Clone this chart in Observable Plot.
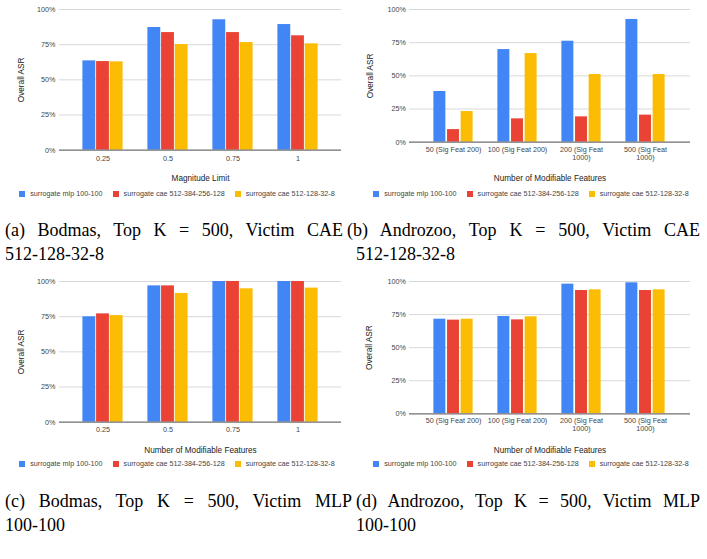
<!DOCTYPE html>
<html>
<head>
<meta charset="utf-8">
<script src="https://cdn.jsdelivr.net/npm/d3@7"></script>
<script src="https://cdn.jsdelivr.net/npm/@observablehq/plot@0.6"></script>
<style>
  body { margin: 0; background: #fff; width: 707px; height: 559px; overflow: hidden; position: relative; }
  .panel { position: absolute; width: 354px; height: 200px; }
  .panel svg { display: block; }
  .legend { position: absolute; left: 0; top: 189px; width: 354px; }
  div.legend div.lg-swatches { font-family: "Liberation Sans", Arial, sans-serif; font-size: 7.2px; color: #444; justify-content: center; margin: 0; min-height: 0; height: 9px; }
  div.legend .lg-swatch { margin-right: 10px; }
  div.legend .lg-swatch:last-child { margin-right: 0; }
  div.legend .lg-swatch > svg { margin-right: 5px; }
  .cap { position: absolute; font-family: "Liberation Serif", "Times New Roman", serif; font-size: 18px; line-height: 24px; color: #000; }
  .cap .l1 { text-align: justify; text-align-last: justify; }
</style>
</head>
<body>
<script>
// ---- data ----
const series = ["surrogate mlp 100-100", "surrogate cae 512-384-256-128", "surrogate cae 512-128-32-8"];
const colors = ["#4285F4", "#EA4335", "#FBBC04"];
const magnitudeLimits = ["0.25", "0.5", "0.75", "1"];
const featureLabels = ["50 (Sig Feat 200)", "100 (Sig Feat 200)", "200 (Sig Feat\n1000)", "500 (Sig Feat\n1000)"];
const yTicks = [0, 25, 50, 75, 100];

// (a) Bodmas, Victim CAE
const aMlp  = [63.5, 87.2, 92.7, 89.3];
const aCae4 = [63.0, 83.6, 83.6, 81.3];
const aCae8 = [62.8, 75.1, 76.5, 75.6];
// (b) Androzoo, Victim CAE
const bMlp  = [38.2, 69.8, 76.1, 92.5];
const bCae4 = [9.5, 17.6, 19.1, 20.4];
const bCae8 = [23.1, 66.8, 51.0, 51.0];
// (c) Bodmas, Victim MLP
const cMlp  = [74.9, 96.9, 100, 100];
const cCae4 = [77.0, 96.9, 100, 100];
const cCae8 = [75.8, 91.5, 94.8, 95.3];
// (d) Androzoo, Victim MLP
const dMlp  = [71.5, 73.6, 98.0, 99.0];
const dCae4 = [70.8, 71.0, 93.2, 93.2];
const dCae8 = [71.5, 73.3, 93.7, 93.7];

const xTitles = ["Magnitude Limit", "Number of Modifiable Features", "Number of Modifiable Features", "Number of Modifiable Features"];
const yTitle = "Overall ASR";
const captionLine1 = ["(a) Bodmas, Top K = 500, Victim CAE", "(b) Androzoo, Top K = 500, Victim CAE", "(c) Bodmas, Top K = 500, Victim MLP", "(d) Androzoo, Top K = 500, Victim MLP"];
const captionLine2 = ["512-128-32-8", "512-128-32-8", "100-100", "100-100"];

// ---- layout ----
const W = 354, H = 186, PI = 0.37, PO = 0.35;
const panels = [
  {left: 0,   top: 0,   groups: magnitudeLimits, values: [aMlp, aCae4, aCae8], mt: 9,  mb: 36.3, ml: 59, mr: 13, tpx: 4.5, tpy: 4,   tdy: 28.3, ydx: -38},
  {left: 354, top: 0,   groups: featureLabels,   values: [bMlp, bCae4, bCae8], mt: 9,  mb: 44.3, ml: 55, mr: 18, tpx: 3.5, tpy: 3.5, tdy: 36.3, ydx: -39},
  {left: 0,   top: 270, groups: magnitudeLimits, values: [cMlp, cCae4, cCae8], mt: 11, mb: 34.3, ml: 59, mr: 13, tpx: 3.5, tpy: 4,   tdy: 28.3, ydx: -38.3},
  {left: 354, top: 270, groups: featureLabels,   values: [dMlp, dCae4, dCae8], mt: 11, mb: 42.7, ml: 55, mr: 18, tpx: 3.5, tpy: 3.5, tdy: 36.7, ydx: -39.7}
];
const captions = [
  {left: 5,   top: 218, width: 338, indent: 0},
  {left: 356, top: 218, width: 344, indent: -9},
  {left: 5,   top: 489, width: 347, indent: 0},
  {left: 356, top: 489, width: 344, indent: 0}
];

const font = '"Liberation Sans", Arial, sans-serif';

panels.forEach((p, k) => {
  const rows = [];
  p.values.forEach((vals, i) => vals.forEach((v, j) => rows.push({group: p.groups[j], series: series[i], value: v})));
  const bw = d3.scaleBand().domain(p.groups).range([p.ml, W - p.mr]).paddingInner(PI).paddingOuter(PO).bandwidth();
  const gap = 0.4;
  const bars = series.map((s, i) => Plot.barY(rows.filter(d => d.series === s), {
    x: "group", y1: 0, y2: "value", fill: "series",
    insetLeft: i * bw / 3 + gap, insetRight: (2 - i) * bw / 3 + gap
  }));
  const chart = Plot.plot({
    width: W, height: H,
    marginTop: p.mt, marginBottom: p.mb, marginLeft: p.ml, marginRight: p.mr,
    style: {fontFamily: font, background: "white", overflow: "visible"},
    x: {type: "band", domain: p.groups, paddingInner: PI, paddingOuter: PO, align: 0.5},
    y: {domain: [0, 100]},
    color: {domain: series, range: colors},
    marks: [
      Plot.gridY(yTicks, {stroke: "#d4d4d4", strokeOpacity: 1, strokeWidth: 0.9}),
      ...bars,
      Plot.ruleY([0], {stroke: "#7a7a7a", strokeWidth: 1.3}),
      Plot.axisY({ticks: yTicks, tickFormat: d => `${d}%`, tickSize: 0, tickPadding: p.tpy, fontSize: 7.2, fill: "#444", label: null}),
      Plot.axisX({tickSize: 0, tickPadding: p.tpx, fontSize: 7.2, fill: "#444", label: null, lineHeight: 1.15}),
      Plot.text([xTitles[k]], {frameAnchor: "bottom", dy: p.tdy, lineAnchor: "middle", textAnchor: "middle", fontSize: 8.2, fill: "#222"}),
      Plot.text([yTitle], {frameAnchor: "left", dx: p.ydx, rotate: -90, lineAnchor: "middle", textAnchor: "middle", fontSize: 8.2, fill: "#222"})
    ]
  });
  const div = document.createElement("div");
  div.className = "panel";
  div.style.left = p.left + "px";
  div.style.top = p.top + "px";
  div.appendChild(chart);
  const lg = document.createElement("div");
  lg.className = "legend";
  lg.appendChild(Plot.legend({color: {type: "ordinal", domain: series, range: colors}, legend: "swatches", swatchSize: 6, className: "lg"}));
  div.appendChild(lg);
  document.body.appendChild(div);

  const c = captions[k];
  const cap = document.createElement("div");
  cap.className = "cap";
  cap.style.left = c.left + "px";
  cap.style.top = c.top + "px";
  cap.style.width = c.width + "px";
  const l1 = document.createElement("div");
  l1.className = "l1";
  l1.style.marginLeft = c.indent + "px";
  l1.textContent = captionLine1[k];
  const l2 = document.createElement("div");
  l2.textContent = captionLine2[k];
  cap.appendChild(l1);
  cap.appendChild(l2);
  document.body.appendChild(cap);
});
</script>
</body>
</html>
